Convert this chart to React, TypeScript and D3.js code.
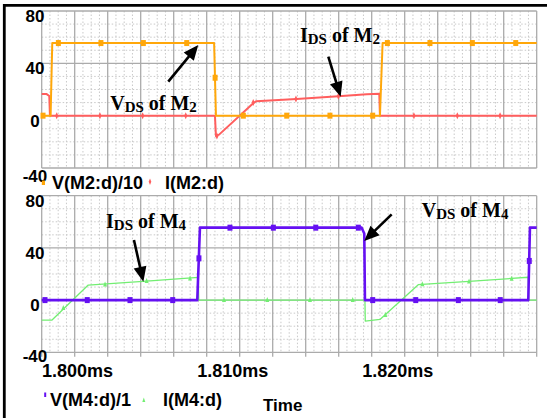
import React from "react";
import * as d3 from "d3";

const W = 547;
const H = 418;

// Time axis (ms) and value axis
const timeDomain = [1.798, 1.828];
const timeTicks = [1.8, 1.81, 1.82];
const timeLabels = ["1.800ms", "1.810ms", "1.820ms"];
const valueTicks = [80, 40, 0, -40];
const valueLabels = ["80", "40", "0", "-40"];

// M2 drain voltage (scaled /10) and drain current: [time ms, value]
const vM2: [number, number][] = [
  [1.798, 0], [1.79854, 0], [1.79864, 55.5], [1.80845, 55.5], [1.80856, 0],
  [1.8185, 0], [1.81866, 55.5], [1.828, 55.5],
];
const vM2Marks: [number, number][] = [
  [1.79808, 0], [1.79901, 55.5], [1.80159, 55.5], [1.80416, 55.5], [1.80679, 55.5],
  [1.80851, 29], [1.81022, 0], [1.81285, 0], [1.81547, 0], [1.81806, 0],
  [1.81895, 55.5], [1.82153, 55.5], [1.8241, 55.5], [1.82673, 55.5],
];
const iM2: [number, number][] = [
  [1.798, 16.5], [1.7983, 16.5], [1.79846, 15], [1.7985, 0], [1.8085, 0],
  [1.80856, -15.5], [1.80875, -14.5], [1.81082, 9.5], [1.81099, 11],
  [1.81345, 12.8], [1.81598, 14.9], [1.8177, 16.4], [1.81846, 16.7],
  [1.8185, 0], [1.828, 0],
];
const iM2Marks: [number, number][] = [
  [1.79891, 0], [1.80153, 0], [1.80412, 0], [1.80673, 0], [1.80862, -15.5],
  [1.81082, 10], [1.81341, 12.8], [1.81598, 14.9], [1.82056, 0], [1.82319, 0],
  [1.82578, 0],
];

// M4 drain voltage and drain current
const vM4: [number, number][] = [
  [1.798, 0], [1.80743, 0], [1.80759, 55.5], [1.81739, 55.5], [1.81755, 51],
  [1.81759, 0], [1.82749, 0], [1.82759, 55.5], [1.828, 55.5],
];
const vM4Marks: [number, number][] = [
  [1.7982, 0], [1.80076, 0], [1.80335, 0], [1.80594, 0], [1.80753, 32],
  [1.80941, 55.5], [1.81204, 55.5], [1.81461, 55.5], [1.81719, 55.5],
  [1.81806, 0], [1.82067, 0], [1.82325, 0], [1.82579, 0], [1.82755, 30],
];
const iM4: [number, number][] = [
  [1.798, -15.4], [1.79861, -15.4], [1.80082, 11.5], [1.80436, 14.6],
  [1.80749, 17.4], [1.80752, 0], [1.81759, 0], [1.81761, -16.1],
  [1.8185, -14.8], [1.82082, 11.8], [1.8239, 14.3], [1.82749, 17.5],
  [1.82752, 0], [1.828, 0],
];
const iM4Marks: [number, number][] = [
  [1.79931, -6], [1.80184, 12], [1.80436, 14.6], [1.80699, 16.6], [1.80905, 0],
  [1.81167, 0], [1.81426, 0], [1.81685, 0], [1.81883, -11.5], [1.82107, 12.1],
  [1.8239, 14.3], [1.82648, 16.3],
];

const ORANGE = "#FFA70A";
const RED = "#FF5E5E";
const PURPLE = "#6510F2";
const GREEN = "#72EE72";
const GRID = "#ABABAB";
const MINOR = "#C9C9C9";

const SANS = "'Liberation Sans', Arial, sans-serif";
const SERIF = "'Liberation Serif', 'Times New Roman', serif";

const x = d3.scaleLinear().domain(timeDomain).range([41.7, 536.7]);
const yTop = d3.scaleLinear().domain([-40, 80]).range([168, 11]);
const yBot = d3.scaleLinear().domain([-40, 80]).range([352.3, 195.7]);

type Scale = d3.ScaleLinear<number, number>;

function Grid({ y, ticksBelow, lowOffset }: { y: Scale; ticksBelow: boolean; lowOffset: number }) {
  const [x0, x1] = x.range();
  const yb = y(-40);
  const yt = y(80);
  const majorsX = d3.range(0, 16).map((i) => 1.798 + i * 0.002);
  const minorsX = d3.range(0, 61).map((i) => 1.798 + i * 0.0005).filter((_, i) => i % 4 !== 0);
  const majorsY = [80, 40, 0, -40];
  const minorsY = d3.range(-40, 81, 10).filter((v) => v % 40 !== 0);
  return (
    <g>
      {minorsX.map((t, i) => (
        <line key={"mx" + i} x1={x(t)} x2={x(t)} y1={yt} y2={yb} stroke={MINOR} strokeWidth={1} strokeDasharray="1.5,2" />
      ))}
      {minorsY.map((v, i) => (
        <line key={"my" + i} x1={x0} x2={x1} y1={y(v)} y2={y(v)} stroke={MINOR} strokeWidth={1} strokeDasharray="1.5,2" />
      ))}
      {majorsX.map((t, i) => (
        <line key={"Mx" + i} x1={x(t)} x2={x(t)} y1={yt} y2={ticksBelow ? yb + 4.5 : yb} stroke={GRID} strokeWidth={1.3} />
      ))}
      {majorsY.map((v, i) => (
        <line key={"My" + i} x1={x0} x2={x1} y1={y(v)} y2={y(v)} stroke={GRID} strokeWidth={1.3} />
      ))}
      {valueTicks.map((v, i) => (
        <text key={"yl" + i} x={35} y={y(v) + (v === -40 ? lowOffset : 11)} textAnchor="middle" fontFamily={SANS} fontWeight="bold" fontSize={17} fill="#000">
          {valueLabels[i]}
        </text>
      ))}
    </g>
  );
}

function Trace({ data, y, color, width }: { data: [number, number][]; y: Scale; color: string; width: number }) {
  const line = d3.line<[number, number]>().x((d) => x(d[0])).y((d) => y(d[1]));
  return <path d={line(data) || ""} fill="none" stroke={color} strokeWidth={width} strokeLinejoin="round" />;
}

function Marks({ data, y, color, shape }: { data: [number, number][]; y: Scale; color: string; shape: string }) {
  return (
    <g fill={color}>
      {data.map((d, i) => {
        const cx = x(d[0]);
        const cy = y(d[1]);
        if (shape === "square") return <rect key={i} x={cx - 2.5} y={cy - 3} width={5} height={6} />;
        if (shape === "diamond")
          return <path key={i} d={`M${cx},${cy - 3.5}L${cx + 1.6},${cy}L${cx},${cy + 3.5}L${cx - 1.6},${cy}Z`} />;
        return <path key={i} d={`M${cx},${cy - 3}L${cx + 2},${cy + 2}L${cx - 2},${cy + 2}Z`} />;
      })}
    </g>
  );
}

function Arrow({ from, to, y }: { from: [number, number]; to: [number, number]; y: Scale }) {
  const x0 = x(from[0]), y0 = y(from[1]);
  const x1 = x(to[0]), y1 = y(to[1]);
  const dx = x1 - x0, dy = y1 - y0;
  const len = Math.hypot(dx, dy);
  const ux = dx / len, uy = dy / len;
  const head = 15, half = 6.5;
  const bx = x1 - ux * head, by = y1 - uy * head;
  const px = -uy, py = ux;
  return (
    <g>
      <line x1={x0} y1={y0} x2={bx + ux * 2} y2={by + uy * 2} stroke="#000" strokeWidth={2.6} />
      <path d={`M${x1},${y1}L${bx + px * half},${by + py * half}L${bx - px * half},${by - py * half}Z`} fill="#000" />
    </g>
  );
}

function Label({ t, v, y, main, sub, tail, tailSub }: { t: number; v: number; y: Scale; main: string; sub: string; tail: string; tailSub: string }) {
  return (
    <text x={x(t)} y={y(v)} fontFamily={SERIF} fontWeight="bold" fontSize={20} fill="#000" style={{ whiteSpace: "pre" }}>
      <tspan>{main}</tspan>
      <tspan fontSize={15} dy={2}>{sub}</tspan>
      <tspan dy={-2}>{tail}</tspan>
      <tspan fontSize={15} dy={2}>{tailSub}</tspan>
    </text>
  );
}

export default function App() {
  const legendFont = { fontFamily: SANS, fontWeight: "bold" as const, fontSize: 18, fill: "#000" };
  return (
    <svg width={W} height={H} viewBox={`0 0 ${W} ${H}`} style={{ position: "absolute", left: 0, top: 0, background: "#fff" }}>
      <rect x={0} y={0} width={W} height={H} fill="#fff" />

      {/* upper panel: M2 */}
      <Grid y={yTop} ticksBelow={false} lowOffset={14} />
      <Trace data={iM2} y={yTop} color={RED} width={2} />
      <Trace data={vM2} y={yTop} color={ORANGE} width={2} />
      <Marks data={iM2Marks} y={yTop} color={RED} shape="diamond" />
      <Marks data={vM2Marks} y={yTop} color={ORANGE} shape="square" />

      {/* lower panel: M4 */}
      <Grid y={yBot} ticksBelow={true} lowOffset={10} />
      <Trace data={iM4} y={yBot} color={GREEN} width={1.3} />
      <Trace data={vM4} y={yBot} color={PURPLE} width={2.6} />
      <Marks data={iM4Marks} y={yBot} color={GREEN} shape="triangle" />
      <Marks data={vM4Marks} y={yBot} color={PURPLE} shape="square" />

      {/* time labels */}
      {timeTicks.map((t, i) => (
        <text key={i} x={Math.max(x(t) - 42.5, 42)} y={377} {...legendFont}>
          {timeLabels[i]}
        </text>
      ))}

      {/* legends */}
      <rect x={41.8} y={180.5} width={3.2} height={4.5} fill={ORANGE} />
      <text x={52} y={189} {...legendFont}>V(M2:d)/10</text>
      <path d="M150,178.5L151.3,181.7L150,185L148.7,181.7Z" fill={RED} />
      <text x={165} y={189} {...legendFont}>I(M2:d)</text>

      <rect x={44.2} y={392.5} width={2} height={4.5} fill={PURPLE} />
      <text x={50} y={405.5} {...legendFont}>V(M4:d)/1</text>
      <path d="M143.8,397.5L145.3,402L142.3,402Z" fill={GREEN} />
      <text x={163} y={405.5} {...legendFont}>I(M4:d)</text>
      <text x={263} y={411} {...legendFont} fontSize={17}>Time</text>

      {/* annotations */}
      <Label t={1.80215} v={4.3} y={yTop} main="V" sub="DS" tail=" of M" tailSub="2" />
      <Arrow from={[1.80567, 26]} to={[1.80749, 54]} y={yTop} />
      <Label t={1.81365} v={56.6} y={yTop} main="I" sub="DS" tail=" of M" tailSub="2" />
      <Arrow from={[1.81537, 45.1]} to={[1.81612, 14.5]} y={yTop} />
      <Label t={1.8019} v={55} y={yBot} main="I" sub="DS" tail=" of M" tailSub="4" />
      <Arrow from={[1.80359, 46.1]} to={[1.80416, 14.1]} y={yBot} />
      <Label t={1.82103} v={63.4} y={yBot} main="V" sub="DS" tail=" of M" tailSub="4" />
      <Arrow from={[1.81921, 65.7]} to={[1.81755, 45.3]} y={yBot} />

      {/* outer frame edges */}
      <line x1={3} x2={W} y1={5.3} y2={5.3} stroke="#000" strokeWidth={2.8} />
      <line x1={4.3} x2={4.3} y1={4} y2={H} stroke="#000" strokeWidth={2.8} />
    </svg>
  );
}
